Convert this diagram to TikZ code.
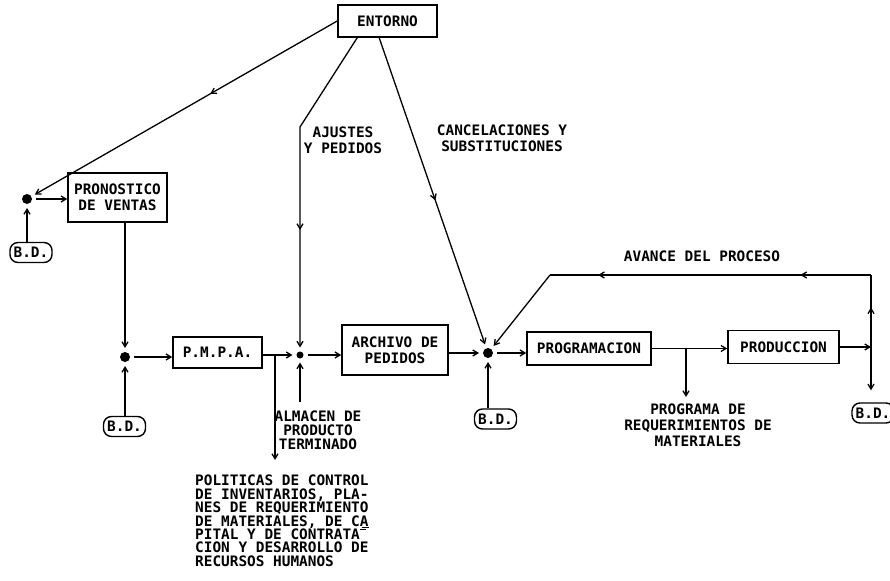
\documentclass[tikz,border=0pt]{standalone}
\usepackage{fontspec}
\setmonofont{DejaVu Sans Mono}
\usetikzlibrary{arrows.meta,positioning,calc,decorations.markings}

\begin{document}
\begin{tikzpicture}[x=1pt,y=-1pt,
    >={Straight Barb[length=5pt,width=6pt]},
    every node/.style={font=\ttfamily\bfseries\fontsize{14.4}{16}\selectfont},
    blk/.style={draw,line width=1.6pt,inner sep=0pt,align=center},
    bd/.style={draw,line width=1.4pt,rounded corners=8pt,minimum width=42pt,minimum height=20pt,inner sep=0pt},
    dot/.style={circle,fill,inner sep=0pt,minimum size=#1,outer sep=4pt},
    lbl/.style={align=center,inner sep=0pt},
    lnk/.style={line width=1.3pt},
    mid arrow/.style={postaction={decorate,decoration={markings,mark=at position #1 with {\arrow{>}}}}}]
    \useasboundingbox (0,0) rectangle (890,580);

    % Bloques
    \node[blk,minimum width=99pt,minimum height=32pt] (entorno) at (387.5,21) {ENTORNO};
    \node[blk,minimum width=99pt,minimum height=49pt] (pronostico) at (117.5,197.5) {PRONOSTICO\\DE VENTAS};
    \node[blk,minimum width=89pt,minimum height=31pt] (pmpa) at (217.5,352.5) {P.M.P.A.};
    \node[blk,minimum width=106pt,minimum height=50pt] (archivo) at (395,350) {ARCHIVO DE\\PEDIDOS};
    \node[blk,minimum width=124pt,minimum height=33pt] (programacion) at (589,348.5) {PROGRAMACION};
    \node[blk,minimum width=111pt,minimum height=33pt] (produccion) at (783.5,347) {PRODUCCION};

    % Puntos de union
    \node[dot=10pt] (d1) at (27,199) {};
    \node[dot=10pt] (d2) at (125,357) {};
    \node[dot=7pt] (d4) at (300,355) {};
    \node[dot=10pt] (d3) at (488,353) {};

    % Bases de datos
    \node[bd] (bd1) at (31,252.5) {B.D.};
    \node[bd] (bd2) at (124.5,426.5) {B.D.};
    \node[bd] (bd3) at (495.5,419) {B.D.};
    \node[bd] (bd4) at (873,413) {B.D.};

    % Textos
    \node[lbl] (ajustes) at (343,140.5) {AJUSTES\\Y PEDIDOS};
    \node[lbl] (cancel) at (502,138) {CANCELACIONES Y\\SUBSTITUCIONES};
    \node[lbl] (avance) at (702,256) {AVANCE DEL PROCESO};
    \node[lbl,anchor=north,font=\ttfamily\bfseries\fontsize{14.4}{14}\selectfont] (almacen) at (318,411) {ALMACEN DE\\PRODUCTO\\TERMINADO};
    \node[lbl,anchor=north,font=\ttfamily\bfseries\fontsize{14.4}{15.7}\selectfont] (programa) at (698,404) {PROGRAMA DE\\REQUERIMIENTOS DE\\MATERIALES};
    \node[lbl,anchor=north west,align=left,font=\ttfamily\bfseries\fontsize{14.4}{13.4}\selectfont] (politicas) at (195,475)
        {POLITICAS DE CONTROL\\DE INVENTARIOS, PLA-\\NES DE REQUERIMIENTO\\DE MATERIALES, DE CA\llap{\rule[-1.5pt]{7pt}{1pt}}\\PITAL Y DE CONTRATA\rlap{\rule[9pt]{6pt}{1pt}}\\CION Y DESARROLLO DE\\RECURSOS HUMANOS};

    % Puntos auxiliares
    \coordinate (bend) at (300,127);
    \coordinate (br1) at (275,355);
    \coordinate (pol) at (275,460);
    \coordinate (alm) at (300,402);
    \coordinate (br2) at (686,348.5);
    \coordinate (req) at (686,397);
    \coordinate (junc) at (871,347);
    \coordinate (corner) at (871,275);
    \coordinate (fb) at (550,275);

    % Entorno
    \draw[lnk,->,mid arrow=0.42] (entorno.west) -- (d1);
    \draw[lnk,->,mid arrow=0.64] ($(entorno.south west)+(20,0)$) -- (bend) -- (d4);
    \draw[lnk,->,mid arrow=0.53] ($(entorno.south west)+(42,0)$) -- (d3);

    % Flujo principal
    \draw[lnk,->] (d1) -- (pronostico.west |- d1);
    \draw[lnk,->] (bd1.north -| d1) -- (d1);
    \draw[lnk,->] (pronostico.south -| d2) -- (d2);
    \draw[lnk,->] (bd2.north -| d2) -- (d2);
    \draw[lnk,->] (d2) -- (pmpa.west |- d2);
    \draw[lnk,->] (pmpa.east |- d4) -- (d4);
    \draw[lnk,->] (br1) -- (pol);
    \draw[lnk,->] (alm) -- (d4);
    \draw[lnk,->] (d4) -- (archivo.west |- d4);
    \draw[lnk,->] (archivo.east |- d3) -- (d3);
    \draw[lnk,->] (bd3.north -| d3) -- (d3);
    \draw[lnk,->] (d3) -- (programacion.west |- d3);
    \draw[lnk,->] (programacion.east) -- (produccion.west |- programacion.east);
    \draw[lnk,->] (br2) -- (req);

    % Avance del proceso
    \draw[lnk,->] (produccion.east) -- (junc);
    \draw[lnk,mid arrow=0.55] (junc) -- (corner);
    \draw[lnk,mid arrow=0.22,mid arrow=0.85] (corner) -- (fb);
    \draw[lnk,->] (fb) -- (d3);
    \draw[lnk,->,shorten >=12pt] (junc) -- (bd4.north -| junc);
\end{tikzpicture}
\end{document}
